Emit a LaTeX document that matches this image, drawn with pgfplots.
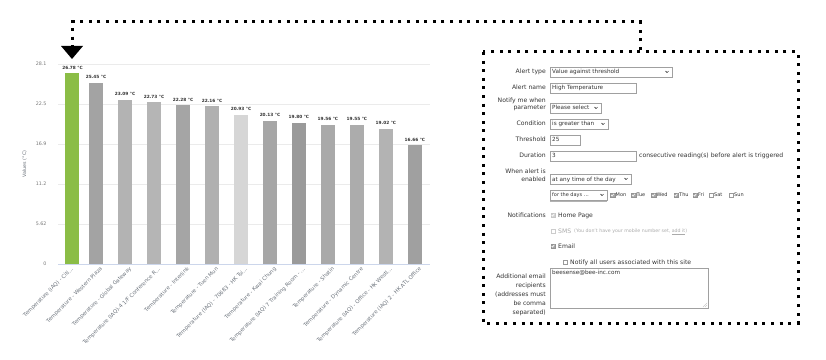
\documentclass[border=0pt]{standalone}
\usepackage{pgfplots}
\pgfplotsset{compat=1.18}
\usepackage{fontspec}
\setmainfont{DejaVu Sans}
\definecolor{grn}{HTML}{8BBD46}
\definecolor{gridc}{HTML}{EBEBEB}
\definecolor{basec}{HTML}{CCD6EB}
\definecolor{tickc}{HTML}{777777}
\definecolor{labc}{HTML}{6A717A}
\definecolor{valc}{HTML}{333333}
\definecolor{formc}{HTML}{333333}
\definecolor{bordc}{HTML}{A0A0A0}
\definecolor{lightc}{HTML}{AAAAAA}
\newcommand\ff{\fontsize{6.1}{7}\selectfont}
\newcommand\fb{\fontsize{5.7}{6.5}\selectfont}
\newcommand\fs{\fontsize{5}{6}\selectfont}
\newcommand\ft{\fontsize{4.7}{5.5}\selectfont}
\newcommand\dd[4]{%
  \draw[draw=bordc, fill=white] (#1,#3-5.2) rectangle (#2,#3+5.2);
  \node[anchor=base west, font=\fb] at (#1+2,#3-2) {#4};
  \draw[line width=0.5pt] (#2-6.5,#3+0.9) -- (#2-5,#3-0.6) -- (#2-3.5,#3+0.9);}
\newcommand\inp[4]{%
  \draw[draw=bordc, fill=white] (#1,#3-5.2) rectangle (#2,#3+5.2);
  \node[anchor=base west, font=\fb] at (#1+2,#3-2) {#4};}
\newcommand\lab[2]{\node[anchor=base east] at (546,#1-2) {#2};}
\newcommand\txt[3]{\node[anchor=base west] at (#1,#2-2) {#3};}
\newcommand\cbon[2]{%
  \draw[fill=gray!70, draw=gray!85] (#1-2.2,#2-2.2) rectangle (#1+2.2,#2+2.2);
  \draw[white, line width=0.6pt] (#1-1.4,#2) -- (#1-0.4,#2-1.1) -- (#1+1.4,#2+1.3);}
\newcommand\cboff[2]{%
  \draw[fill=white, draw=gray!80] (#1-2.2,#2-2.2) rectangle (#1+2.2,#2+2.2);}
\newcommand\cbdis[2]{%
  \draw[fill=white, draw=gray!40] (#1-2.2,#2-2.2) rectangle (#1+2.2,#2+2.2);}
\newcommand\cbdison[2]{%
  \draw[fill=gray!35, draw=gray!45] (#1-2.2,#2-2.2) rectangle (#1+2.2,#2+2.2);
  \draw[white, line width=0.6pt] (#1-1.4,#2) -- (#1-0.4,#2-1.1) -- (#1+1.4,#2+1.3);}
\tikzset{dotl/.style={line width=3pt, dash pattern=on 3pt off 5.6pt, line cap=butt}}
\begin{document}
\begin{tikzpicture}
\path[use as bounding box] (0pt,0pt) rectangle (826pt,359pt);
\begin{axis}[
  at={(58pt,95pt)}, anchor=south west,
  scale only axis, width=372pt, height=200pt,
  xmin=-0.31, xmax=12.52, ymin=0, ymax=28.1,
  /pgf/number format/assume math mode=true,
  ybar, bar width=14pt,
  axis line style={draw=none},
  major tick length=0pt,
  ymajorgrids, grid style={draw=gridc, line width=0.6pt},
  ytick={0,5.62,11.24,16.86,22.48,28.1},
  yticklabels={0,5.62,11.2,16.9,22.5,28.1},
  yticklabel style={font=\fontsize{4.8}{5.5}\selectfont, text=tickc, xshift=-8pt},
  xtick={0,1,2,3,4,5,6,7,8,9,10,11,12},
  xticklabels={
    {Temperature (IAQ) - Citi\dots},
    {Temperature - Western Plaza},
    {Temperature - Global Gateway},
    {Temperature (IAQ)-4 1/F Conference R\dots},
    {Temperature - Interlink},
    {Temperature - Tuen Mun},
    {Temperature (IAQ) - 70683 - HK Tsi\dots},
    {Temperature - Kwai Chung},
    {Temperature (IAQ) 7 Training Room - \dots},
    {Temperature - Shatin},
    {Temperature - Dynamic Centre},
    {Temperature (IAQ) - Office - HK Westl\dots},
    {Temperature (IAQ) 2 - HK ATL Office}},
  xticklabel style={rotate=45, anchor=east, font=\fontsize{5.3}{6}\selectfont, text=labc, inner sep=1pt, yshift=-7pt, xshift=2pt},
  ylabel={Values (°C)},
  ylabel style={at={(axis description cs:-0.09,0.5)}, anchor=center, font=\fontsize{4.8}{5.5}\selectfont, text=labc},
  nodes near coords={\pgfmathprintnumber[fixed,fixed zerofill,precision=2]{\pgfplotspointmeta}~°C},
  every node near coord/.append style={font=\bfseries\fontsize{4.3}{5}\selectfont, text=valc, yshift=0.5pt},
  clip=false,
]
\addplot[fill=grn, draw=none, bar shift=0pt] coordinates {(0.19,26.78)};
\addplot[fill={rgb,255:red,163;green,163;blue,163}, draw=none, bar shift=0pt] coordinates {(1,25.45)};
\addplot[fill={rgb,255:red,179;green,179;blue,179}, draw=none, bar shift=0pt] coordinates {(2,23.09)};
\addplot[fill={rgb,255:red,181;green,181;blue,181}, draw=none, bar shift=0pt] coordinates {(3,22.73)};
\addplot[fill={rgb,255:red,165;green,165;blue,165}, draw=none, bar shift=0pt] coordinates {(4,22.28)};
\addplot[fill={rgb,255:red,176;green,176;blue,176}, draw=none, bar shift=0pt] coordinates {(5,22.16)};
\addplot[fill={rgb,255:red,214;green,214;blue,214}, draw=none, bar shift=0pt] coordinates {(6,20.93)};
\addplot[fill={rgb,255:red,166;green,166;blue,166}, draw=none, bar shift=0pt] coordinates {(7,20.13)};
\addplot[fill={rgb,255:red,154;green,154;blue,154}, draw=none, bar shift=0pt] coordinates {(8,19.80)};
\addplot[fill={rgb,255:red,169;green,169;blue,169}, draw=none, bar shift=0pt] coordinates {(9,19.56)};
\addplot[fill={rgb,255:red,172;green,172;blue,172}, draw=none, bar shift=0pt] coordinates {(10,19.55)};
\addplot[fill={rgb,255:red,179;green,179;blue,179}, draw=none, bar shift=0pt] coordinates {(11,19.02)};
\addplot[fill={rgb,255:red,160;green,160;blue,160}, draw=none, bar shift=0pt] coordinates {(12,16.66)};
\draw[basec, line width=0.8pt] (rel axis cs:0,0) -- (rel axis cs:1,0);
\end{axis}
\begin{scope}[x=1pt, y=1pt, every node/.style={inner sep=0pt, font=\ff, text=formc}]
% dotted connector
\draw[dotl] (640,309) -- (640,337) -- (72,337) -- (72,313);
\fill (61,313) -- (83,313) -- (72,300) -- cycle;
\draw[dotl] (483,307) rectangle (798,36);
% form rows
\lab{287}{Alert type}
\dd{550}{672}{287}{Value against threshold}
\lab{271}{Alert name}
\inp{550}{636}{271}{High Temperature}
\lab{258.5}{Notify me when}
\lab{251}{parameter}
\dd{550}{601}{251}{Please select}
\lab{235}{Condition}
\dd{550}{608}{235}{is greater than}
\lab{219}{Threshold}
\inp{550}{580}{219}{25}
\lab{203}{Duration}
\inp{550}{636}{203}{3}
\txt{639}{203}{consecutive reading(s) before alert is triggered}
\lab{187}{When alert is}
\lab{180}{enabled}
\dd{550}{631}{180}{at any time of the day}
% days row
\draw[draw=bordc, fill=white] (550,158.8) rectangle (607,169.2);
\node[anchor=base west, font=\fs] at (552,162.2) {for the days \dots};
\draw[line width=0.5pt] (600.5,164.9) -- (602,163.4) -- (603.5,164.9);
\draw[gray!60, line width=0.4pt] (550,158.2) -- (607,158.2);
\cbon{612.5}{164} \node[anchor=base west,font=\fs] at (615.5,162.2) {Mon};
\cbon{633.5}{164} \node[anchor=base west,font=\fs] at (636.5,162.2) {Tue};
\cbon{653.5}{164} \node[anchor=base west,font=\fs] at (656.5,162.2) {Wed};
\cbon{676}{164} \node[anchor=base west,font=\fs] at (679,162.2) {Thu};
\cbon{695}{164} \node[anchor=base west,font=\fs] at (698,162.2) {Fri};
\cboff{711}{164} \node[anchor=base west,font=\fs] at (714,162.2) {Sat};
\cboff{731}{164} \node[anchor=base west,font=\fs] at (734,162.2) {Sun};
% notifications
\lab{144}{Notifications}
\cbdison{553}{144} \txt{558}{144}{Home Page}
\cbdis{553}{128} \node[anchor=base west, text=lightc] at (558,126) {SMS};
\node[anchor=base west, text=lightc, font=\ft] at (574,126.3) {(You don't have your mobile number set, \underline{add it})};
\cbon{553}{113} \txt{558}{113}{Email}
\cboff{565}{97} \txt{570}{97}{Notify all users associated with this site}
% additional email
\lab{83}{Additional email}
\lab{74}{recipients}
\lab{65}{(addresses must}
\lab{56}{be comma}
\lab{47}{separated)}
\draw[draw=bordc, fill=white] (550,51) rectangle (708,91);
\node[anchor=base west, font=\fb] at (552,85) {beesense@bee-inc.com};
\draw[gray!70, line width=0.3pt] (703,52) -- (707,56) (705,52) -- (707,54);
\end{scope}
\end{tikzpicture}
\end{document}
